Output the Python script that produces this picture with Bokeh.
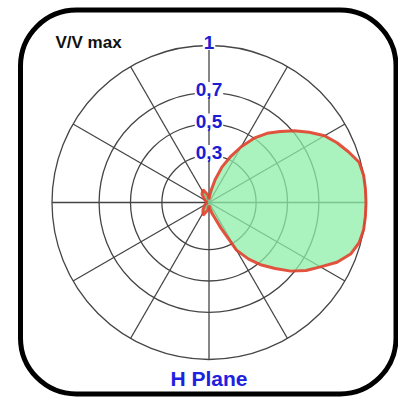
import numpy as np
from bokeh.plotting import figure
from bokeh.models import Range1d
from bokeh.embed import file_html
from bokeh.resources import INLINE
from bokeh.core.properties import value

# ---- data -------------------------------------------------------------
pattern_deg = [-180, -150, -130, -115, -100, -90, -80, -75, -70, -65, -60, -55, -50,
               -45, -40, -35, -30, -25, -20, -15, -10, -5, 0, 5, 10, 15, 20, 25, 30,
               35, 40, 45, 50, 55, 60, 65, 70, 75, 80, 85, 90, 100, 115, 130, 150, 180]
pattern_vv = [0.01, 0.03, 0.06, 0.09, 0.05, 0.02, 0.04, 0.07, 0.10, 0.18, 0.35, 0.44, 0.52,
              0.595, 0.68, 0.755, 0.82, 0.90, 0.96, 0.99, 1.0, 1.0, 1.0, 1.0, 1.0, 0.99, 0.945, 0.90, 0.85,
              0.78, 0.71, 0.64, 0.575, 0.50, 0.41, 0.32, 0.24, 0.15, 0.08, 0.04, 0.02, 0.05, 0.09, 0.07, 0.03, 0.01]
ring_values = [0.3, 0.5, 0.7, 1.0]
ring_labels = ["0,3", "0,5", "0,7", "1"]
spoke_deg = [0, 30, 60, 90, 120, 150, 180, 210, 240, 270, 300, 330]
unit_label = "V/V  max"
plane_label = "H Plane"

# ---- layout (pixels) ----------------------------------------------------
W, H = 398, 397
CX, CY = 208.5, 202.0   # centre of the polar grid inside the figure
R = 157.0               # pixels for V/V = 1

def dx(px):
    return (px - CX) / R

def dy(py):
    return (CY - py) / R

p = figure(width=W, height=H, output_backend="svg", toolbar_location=None,
           x_range=Range1d(dx(0), dx(W)), y_range=Range1d(dy(H), dy(0)),
           min_border=0, outline_line_color=None)
p.axis.visible = False
p.grid.visible = False
p.background_fill_color = "white"
p.border_fill_color = "white"

# rounded frame
p.quad(left=[dx(20)], right=[dx(395.5)], top=[dy(9.5)], bottom=[dy(393.5)],
       fill_color=None, line_color="black", line_width=5, border_radius=56)

# polar grid
p.circle(x=[0] * len(ring_values), y=[0] * len(ring_values), radius=ring_values,
         fill_color=None, line_color="#454545", line_width=1.3)
sp = np.radians(spoke_deg)
p.segment(x0=[0] * len(sp), y0=[0] * len(sp), x1=np.cos(sp), y1=np.sin(sp),
          line_color="#454545", line_width=1.3)

# radiation pattern
th = np.radians(pattern_deg)
r = np.array(pattern_vv)
xs = r * np.cos(th)
ys = r * np.sin(th)
p.patch(xs, ys, fill_color="#8defa8", fill_alpha=0.75, line_color=None)
p.line(xs, ys, line_color="#e2402c", line_width=3, line_alpha=0.9)

# ring labels
p.text(x=[0] * len(ring_values), y=[v + 3 / R for v in ring_values], text=ring_labels,
       text_font=value("Liberation Sans"), text_font_style="bold", text_font_size="19px",
       text_color="#1c1cd2", text_align="center", text_baseline="middle",
       background_fill_color="white", padding=1)

p.text(x=[dx(55)], y=[dy(42)], text=[unit_label],
       text_font=value("Liberation Sans"), text_font_style="bold", text_font_size="17px",
       text_color="#111111", text_align="left", text_baseline="middle")

p.text(x=[0], y=[dy(378)], text=[plane_label],
       text_font=value("Liberation Sans"), text_font_style="bold", text_font_size="21px",
       text_color="#2020e0", text_align="center", text_baseline="middle")

open("out.html", "w").write(file_html(p, INLINE))
